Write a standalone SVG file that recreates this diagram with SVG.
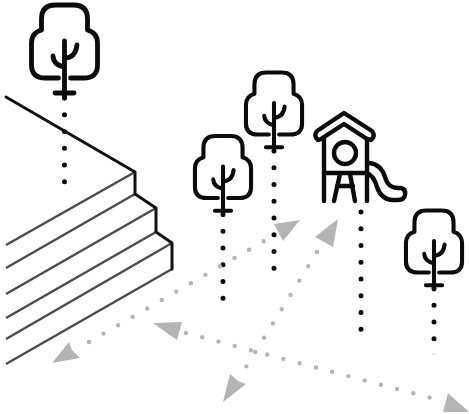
<svg xmlns="http://www.w3.org/2000/svg" width="469" height="414" viewBox="0 0 469 414">
<style>
.icon{fill:none;stroke:#0b0b0b;stroke-linecap:round;stroke-linejoin:round}
.d{fill:none;stroke:#0b0b0b;stroke-width:5;stroke-linecap:round;stroke-dasharray:0 16.75}
.g{fill:none;stroke:#b4b4b4;stroke-width:4.4;stroke-linecap:round;stroke-dasharray:0 16.8}
.h{fill:#b4b4b4}
.s{fill:none;stroke:#4a4a4a;stroke-width:2.4}
.k{fill:none;stroke:#111;stroke-width:3;stroke-linejoin:round;stroke-linecap:round}
</style>
<defs>
<g id="tree">
<path d="M-6 0H-19Q-33 0-33-13V-35Q-33-45-23-48V-59Q-23-73-9-73H9Q23-73 23-59V-48Q33-45 33-35V-13Q33 0 19 0H6" stroke-width="4.8"/>
<path d="M0-37V20M-9.5 15H9.5M0-11Q-11-13-11.500-22M0-20Q11-20 12.500-33" stroke-width="4.800"/>
</g>
</defs>
<g id="connectors">
<line class="d" x1="64.5" y1="98" x2="64.5" y2="184"/>
<line class="d" x1="223" y1="214.500" x2="223" y2="300"/>
<line class="d" x1="274" y1="151" x2="274" y2="270"/>
<line class="d" x1="361" y1="212" x2="361" y2="330"/>
<line class="d" x1="434" y1="288.500" x2="434" y2="341"/>
<line x1="432" y1="354" x2="436" y2="354" stroke="#ccc" stroke-width="1"/>
<line class="g" x1="89" y1="342" x2="265" y2="240.500"/>
<polygon class="h" points="300,220 274,224 283,241"/>
<polygon class="h" points="52,363 69,342 72,350 80,358"/>
<line class="g" x1="317" y1="252" x2="246" y2="367"/>
<polygon class="h" points="338,219 315,237 333,247"/>
<polygon class="h" points="223,402 230,374 238,381 246,384"/>
<line class="g" x1="186" y1="333" x2="431" y2="398"/>
<polygon class="h" points="153,323 182,322 177,340"/>
<polygon class="h" points="469,412 448,393 443,412"/>
</g>
<g id="stairs">
<path class="s" d="M135 172L6 245M135 194L6 268M156 208L6 294M156 232L6 318M172 243L6 339M172 269L6 364"/>
<path class="k" d="M6 97L135 172V194L156 208V232L172 243V269"/>
</g>
<g id="tree-1" class="icon"><use href="#tree" transform="translate(64.5 78)"/></g>
<g id="tree-2" class="icon"><use href="#tree" transform="translate(274 134.500) scale(.85)"/></g>
<g id="tree-3" class="icon"><use href="#tree" transform="translate(223 198) scale(.85)"/></g>
<g id="tree-4" class="icon"><use href="#tree" transform="translate(434 272.500) scale(.85)"/></g>
<g id="playground" class="icon" stroke-width="4.4">
<path d="M344 113L372 131Q376 136 371 140L367 139L344 124L321 139L318 140Q313 136 317 131Z"/>
<path d="M324 139V201M367 139V201M324 173H367M340 174L334 201M350 174L355 201M337 186H353"/>
<circle cx="345" cy="153" r="11"/>
<path d="M369 163Q381 164 385 177Q388 188 398 188H401Q406 189 405 195Q404 200 398 200H392Q381 199 377 187Q374 176 367 173"/>
</g>
</svg>
